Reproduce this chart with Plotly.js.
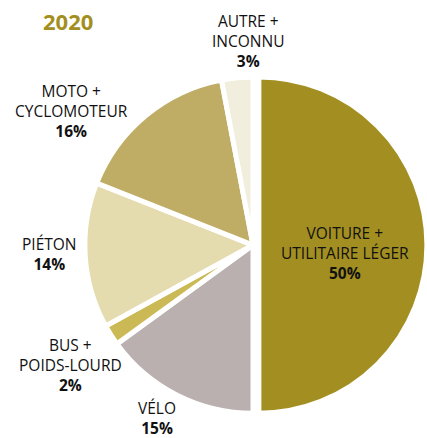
<!DOCTYPE html>
<html>
<head>
<meta charset="utf-8">
<script src="https://cdn.plot.ly/plotly-3.0.1.min.js"></script>
<style>html,body{margin:0;padding:0;background:#fff;}#chart{width:427px;height:438px;}</style>
</head>
<body>
<div id="chart"></div>
<script>
// Data
const categories = ["VOITURE + UTILITAIRE LÉGER", "VÉLO", "BUS + POIDS-LOURD", "PIÉTON", "MOTO + CYCLOMOTEUR", "AUTRE + INCONNU"];
const labelLines = [["VOITURE +", "UTILITAIRE LÉGER"], ["VÉLO"], ["BUS +", "POIDS-LOURD"], ["PIÉTON"], ["MOTO +", "CYCLOMOTEUR"], ["AUTRE +", "INCONNU"]];
const shares = [50, 15, 2, 14, 16, 3];
const year = "2020";

// Styles
const colors = ["#a38f21", "#bab0b0", "#cbb955", "#e4dcae", "#c0ad65", "#f2eedd"];
const pulls = [0.035, 0, 0, 0, 0, 0];
const labelX = [345, 157, 70, 49, 71, 248];        // pixel centre x
const labelY = [253, 418, 365, 254, 111, 41];      // pixel centre y of label block

const W = 427, H = 438;
const FONT = 'Open Sans, sans-serif';
const annotations = categories.map((c, i) => ({
  xref: 'paper', yref: 'paper',
  x: labelX[i] / W, y: 1 - labelY[i] / H,
  xanchor: 'center', yanchor: 'middle',
  showarrow: false, align: 'center',
  text: labelLines[i].join('<br>') + '<br><b>' + shares[i] + '%</b>',
  font: {family: FONT, size: 15.5, color: '#111111'}
}));
annotations.push({
  xref: 'paper', yref: 'paper', x: 68 / W, y: 1 - 21 / H,
  xanchor: 'center', yanchor: 'middle', showarrow: false,
  text: '<b>' + year + '</b>',
  font: {family: FONT, size: 22, color: '#a38f21'}
});

const trace = {
  type: 'pie',
  labels: categories,
  values: shares,
  sort: false,
  direction: 'clockwise',
  rotation: 0,
  pull: pulls,
  textinfo: 'none',
  hoverinfo: 'label+percent',
  marker: {colors: colors, line: {color: '#ffffff', width: 5}},
  domain: {x: [0.185, 1.0], y: [0.043, 0.838]},
  showlegend: false
};

Plotly.newPlot('chart', [trace], {
  width: W, height: H,
  margin: {l: 0, r: 0, t: 0, b: 0},
  paper_bgcolor: '#ffffff',
  showlegend: false,
  annotations: annotations
}, {displayModeBar: false, staticPlot: true});
</script>
</body>
</html>
